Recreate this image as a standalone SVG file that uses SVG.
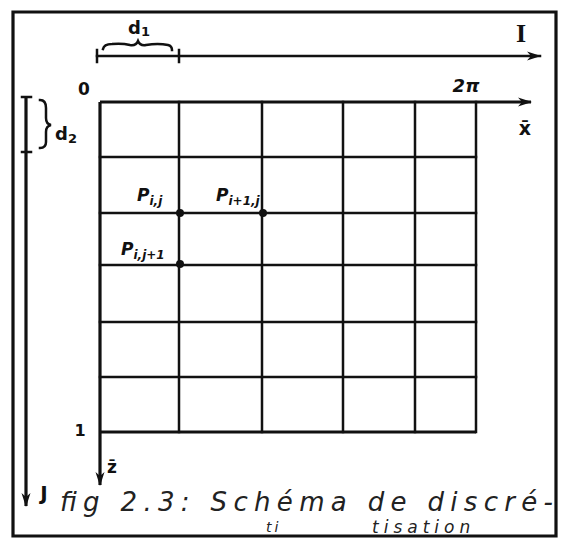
<svg xmlns="http://www.w3.org/2000/svg" width="567" height="538" viewBox="0 0 567 538">
<defs>
<marker id="ah" markerWidth="14" markerHeight="10" refX="13" refY="5" orient="auto" markerUnits="userSpaceOnUse">
<path d="M0,0.5 L14,5 L0,9.5 L4,5 z" fill="#111"/>
</marker>
<style>
.ln{stroke:#111;stroke-width:2.5;fill:none;stroke-linecap:square}
.th{stroke:#111;stroke-width:3.2;fill:none}
.lbl{font-family:"DejaVu Sans",sans-serif;font-weight:bold;fill:#111}
.cap{font-family:"DejaVu Sans",sans-serif;font-style:oblique;fill:#222}
.dot{fill:#111}
</style>
</defs>
<rect width="567" height="538" fill="#fff"/>
<g id="frame">
<path class="th" d="M13,12 H556 V536 H13 Z"/>
</g>
<g id="grid">
<path class="ln" d="M179,102 V432 M262,102 V432 M343,102 V432 M415,102 V432 M476,102 V432"/>
<path class="ln" d="M100,157 H476 M100,213 H476 M100,265 H476 M100,322 H476 M100,377 H476"/>
<path class="th" d="M100,432 H476"/>
</g>
<g id="connectors">
<path class="ln" d="M97,56 H540" marker-end="url(#ah)"/>
<path class="ln" d="M97,50 V62 M179,50 V62"/>
<path class="th" d="M100,102 H531" marker-end="url(#ah)"/>
<path class="th" d="M100,102 V485" marker-end="url(#ah)"/>
<path class="th" d="M26,97 V506" marker-end="url(#ah)"/>
<path class="ln" d="M22,97 H31 M22,152 H31"/>
<path class="ln" stroke-width="2" d="M103,49 Q104,44 112,44 Q122,43 130,45 Q136,46 138,41 Q140,46 146,45 Q158,43 168,45 Q172,46 172,50"/>
<path class="ln" stroke-width="2" d="M40,100 Q46,100 46,108 L46,118 Q46,124 51,125 Q46,126 46,132 L46,142 Q46,148 40,148"/>
</g>
<g id="points">
<circle class="dot" cx="180" cy="213" r="4"/>
<circle class="dot" cx="263" cy="213" r="4"/>
<circle class="dot" cx="180" cy="264" r="4"/>
</g>
<g id="labels">
<text class="lbl" x="128" y="34" font-size="18">d<tspan font-size="13" dy="2">1</tspan></text>
<text x="521" y="42" font-family="Liberation Serif,serif" font-weight="bold" font-size="26" text-anchor="middle" fill="#111">I</text>
<text class="lbl" x="84" y="95" font-size="17" font-weight="normal" text-anchor="middle">0</text>
<text class="lbl" x="466" y="92" font-size="18" font-style="oblique" text-anchor="middle">2π</text>
<text class="lbl" x="525" y="135" font-size="19" font-weight="normal" text-anchor="middle">x̄</text>
<text class="lbl" x="55" y="140" font-size="18">d<tspan font-size="13" dy="3">2</tspan></text>
<text class="lbl" x="80" y="436" font-size="16" text-anchor="middle">1</text>
<text class="lbl" x="112" y="473" font-size="17" text-anchor="middle">z̄</text>
<text class="lbl" x="44" y="500" font-size="20" text-anchor="middle">J</text>
<text class="lbl" x="137" y="201" font-size="17" font-style="oblique">P<tspan font-size="12" dy="4">i,j</tspan></text>
<text class="lbl" x="216" y="201" font-size="17" font-style="oblique">P<tspan font-size="12" dy="4">i+1,j</tspan></text>
<text class="lbl" x="121" y="255" font-size="17" font-style="oblique">P<tspan font-size="12" dy="4">i,j+1</tspan></text>
</g>
<g id="caption">
<text class="cap" x="60" y="511" font-size="26" textLength="493" lengthAdjust="spacing">fig 2.3: Schéma de discré-</text>
<text class="cap" x="266" y="532" font-size="14" letter-spacing="3">ti</text>
<text class="cap" x="372" y="533" font-size="17" letter-spacing="5">tisation</text>
</g>
</svg>
